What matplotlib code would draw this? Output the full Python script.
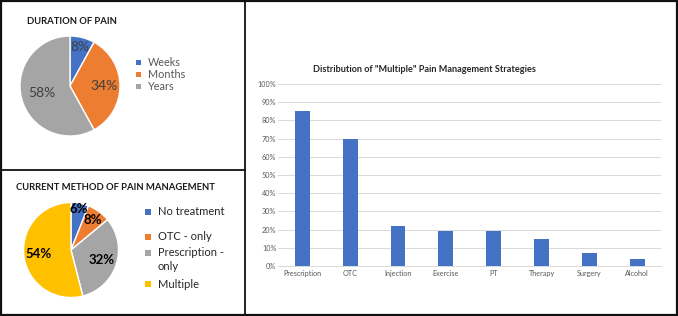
import matplotlib
matplotlib.use("Agg")
import matplotlib.pyplot as plt
from matplotlib.patches import Rectangle
from matplotlib.lines import Line2D
import numpy as np

plt.rcParams['font.family'] = ['Lato', 'DejaVu Sans']

# ---- data ----
duration_labels = ["Weeks", "Months", "Years"]
duration_values = [8, 34, 58]

method_labels = ["No treatment", "OTC - only", "Prescription -\nonly", "Multiple"]
method_values = [6, 8, 32, 54]

strategy_labels = ["Prescription", "OTC", "Injection", "Exercise", "PT", "Therapy", "Surgery", "Alcohol"]
strategy_values = [0.85, 0.70, 0.22, 0.19, 0.19, 0.15, 0.07, 0.04]

y_ticks = [0.0, 0.1, 0.2, 0.3, 0.4, 0.5, 0.6, 0.7, 0.8, 0.9, 1.0]

colors = ["#4472C4", "#ED7D31", "#A5A5A5", "#FFC000"]

W, H = 678, 316
fig = plt.figure(figsize=(W / 100, H / 100), dpi=100)
fig.patch.set_facecolor("white")


def px_axes(x0, y0, w, h):
    # pixel box (top-left origin) -> figure axes
    return fig.add_axes([x0 / W, 1 - (y0 + h) / H, w / W, h / H])


def place_labels(ax, wedges, texts, radii):
    for w, t, r in zip(wedges, texts, radii):
        ang = np.deg2rad((w.theta1 + w.theta2) / 2)
        t.set_position((r * np.cos(ang), r * np.sin(ang)))


def manual_legend(wedges, labels, mx, ys, tx, size, fs, color):
    for w, lab, y in zip(wedges, labels, ys):
        fig.add_artist(Rectangle(((mx - size / 2) / W, 1 - (y + size / 2) / H), size / W, size / H,
                                 transform=fig.transFigure, facecolor=w.get_facecolor(),
                                 edgecolor="none"))
        lines = lab.split("\n")
        for i, line in enumerate(lines):
            fig.text(tx / W, 1 - (y + i * 14) / H, line, fontsize=fs, color=color,
                     ha="left", va="center")


# ---- pie 1: duration ----
R1 = 50
ax1 = px_axes(70 - R1, 86 - R1, 2 * R1, 2 * R1)
w1, _, t1 = ax1.pie(duration_values, colors=colors[:3], startangle=90, counterclock=False,
                    autopct='%d%%', radius=1,
                    wedgeprops=dict(edgecolor="white", linewidth=1),
                    textprops=dict(color="#404040", fontsize=10))
ax1.set_xlim(-1, 1); ax1.set_ylim(-1, 1)
place_labels(ax1, w1, t1, [0.80, 0.68, 0.58])
fig.text(27 / W, 1 - 21 / H, "DURATION OF PAIN", fontsize=6.8, fontweight="bold",
         color="#1a1a1a", va="center", ha="left")
manual_legend(w1, duration_labels, 138.5, [62.5, 74.5, 86.5], 148, 5.5, 7.8, "#595959")

# ---- pie 2: current method ----
R2 = 47.5
ax2 = px_axes(71 - R2, 250 - R2, 2 * R2, 2 * R2)
w2, _, t2 = ax2.pie(method_values, colors=colors, startangle=90, counterclock=False,
                    autopct='%d%%', radius=1,
                    wedgeprops=dict(edgecolor="white", linewidth=1),
                    textprops=dict(color="#000000", fontsize=9.5, fontweight="bold"))
ax2.set_xlim(-1, 1); ax2.set_ylim(-1, 1)
place_labels(ax2, w2, t2, [0.87, 0.78, 0.67, 0.69])
fig.text(16 / W, 1 - 187 / H, "CURRENT METHOD OF PAIN MANAGEMENT", fontsize=6.8,
         fontweight="bold", color="#1a1a1a", va="center", ha="left")
manual_legend(w2, method_labels, 148, [211.5, 237, 253, 284], 158, 6, 8, "#262626")

# ---- bar chart ----
ax3 = px_axes(278.4, 84, 661.2 - 278.4, 266 - 84)
x = np.arange(len(strategy_labels))
ax3.bar(x, strategy_values, width=0.31, color="#4472C4", zorder=3)
ax3.set_xlim(-0.5, len(strategy_labels) - 0.5)
ax3.set_ylim(0, 1)
ax3.set_yticks(y_ticks)
ax3.set_yticklabels([f"{int(round(v * 100))}%" for v in y_ticks])
ax3.set_xticks(x)
ax3.set_xticklabels(strategy_labels)
ax3.grid(axis="y", color="#D9D9D9", linewidth=0.7, zorder=0)
for s in ["top", "right", "left"]:
    ax3.spines[s].set_visible(False)
ax3.spines["bottom"].set_color("#D9D9D9")
ax3.spines["bottom"].set_linewidth(0.7)
ax3.tick_params(axis="both", length=0, labelsize=5.2, labelcolor="#595959", pad=3)
ax3.tick_params(axis="y", pad=1.5)
fig.text(424 / W, 1 - 70 / H, 'Distribution of "Multiple" Pain Management Strategies',
         fontsize=6.6, fontweight="bold", color="#262626", ha="center", va="center")

# ---- borders ----
fig.add_artist(Rectangle((1 / W, 1 / H), (W - 2) / W, (H - 2) / H, transform=fig.transFigure,
                         fill=False, edgecolor="#111111", linewidth=1.6))
fig.add_artist(Line2D([244.5 / W, 244.5 / W], [0, 1], transform=fig.transFigure,
                      color="#111111", linewidth=1.3))
fig.add_artist(Line2D([0, 244.5 / W], [1 - 169.5 / H, 1 - 169.5 / H], transform=fig.transFigure,
                      color="#111111", linewidth=1.3))

fig.savefig("out.png", dpi=100, facecolor="white")
